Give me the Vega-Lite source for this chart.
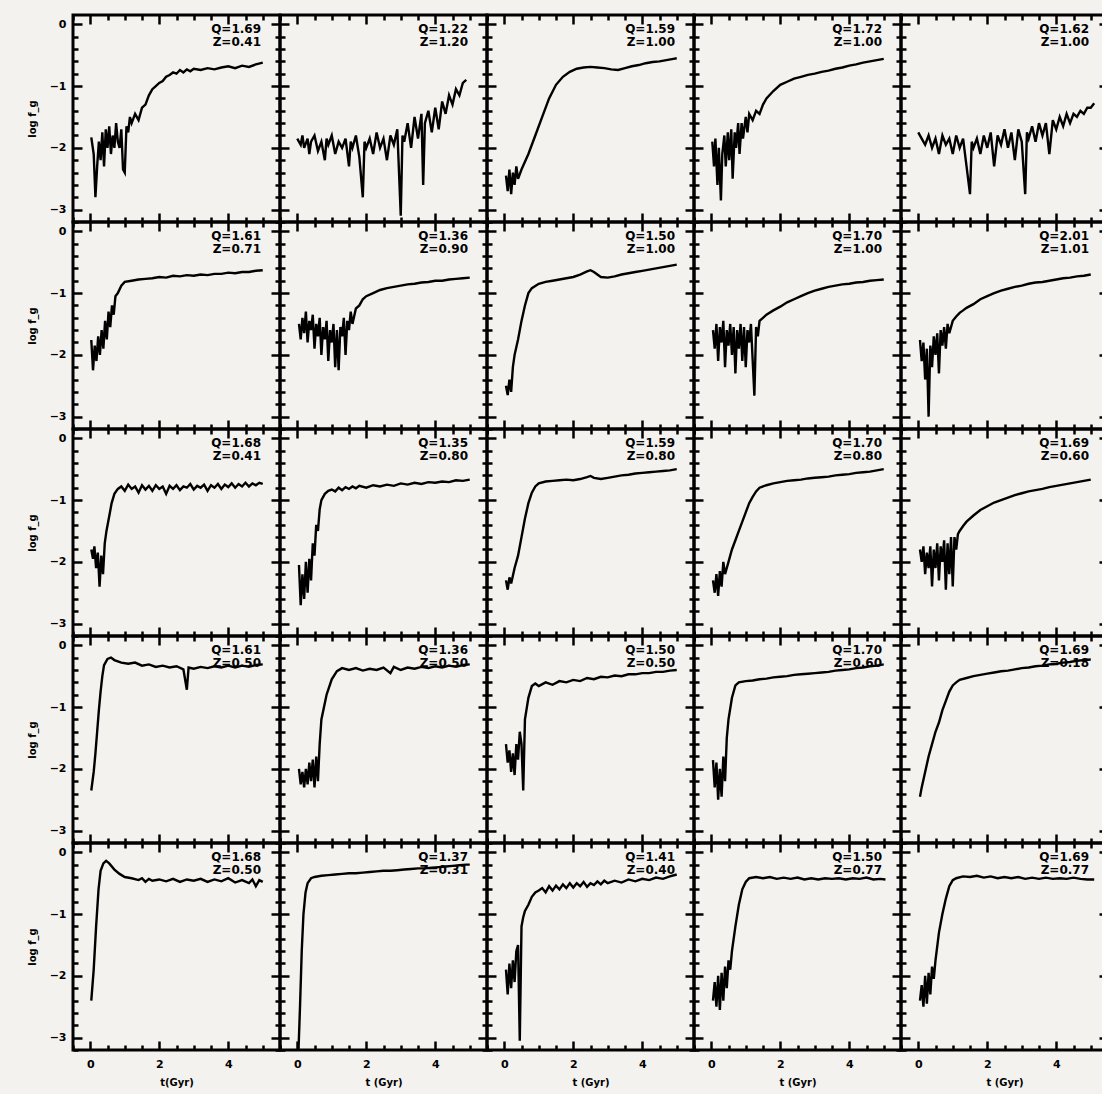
{
"$schema":"https://vega.github.io/schema/vega-lite/v6.json",
"background":"#f4f2ee",
"padding":{"left":25,"top":12,"right":0,"bottom":5},
"datasets":{
"lab":[
{"p":1,"s":"Q=1.69\nZ=0.41"},{"p":2,"s":"Q=1.22\nZ=1.20"},{"p":3,"s":"Q=1.59\nZ=1.00"},{"p":4,"s":"Q=1.72\nZ=1.00"},{"p":5,"s":"Q=1.62\nZ=1.00"},
{"p":6,"s":"Q=1.61\nZ=0.71"},{"p":7,"s":"Q=1.36\nZ=0.90"},{"p":8,"s":"Q=1.50\nZ=1.00"},{"p":9,"s":"Q=1.70\nZ=1.00"},{"p":10,"s":"Q=2.01\nZ=1.01"},
{"p":11,"s":"Q=1.68\nZ=0.41"},{"p":12,"s":"Q=1.35\nZ=0.80"},{"p":13,"s":"Q=1.59\nZ=0.80"},{"p":14,"s":"Q=1.70\nZ=0.80"},{"p":15,"s":"Q=1.69\nZ=0.60"},
{"p":16,"s":"Q=1.61\nZ=0.50"},{"p":17,"s":"Q=1.36\nZ=0.50"},{"p":18,"s":"Q=1.50\nZ=0.50"},{"p":19,"s":"Q=1.70\nZ=0.60"},{"p":20,"s":"Q=1.69\nZ=0.18"},
{"p":21,"s":"Q=1.68\nZ=0.50"},{"p":22,"s":"Q=1.37\nZ=0.31"},{"p":23,"s":"Q=1.41\nZ=0.40"},{"p":24,"s":"Q=1.50\nZ=0.77"},{"p":25,"s":"Q=1.69\nZ=0.77"}
],
"d":[
{"p":1,"t":0.03,"f":-1.83},{"p":1,"t":0.1,"f":-2.1},{"p":1,"t":0.15,"f":-2.8},{"p":1,"t":0.2,"f":-2.3},{"p":1,"t":0.25,"f":-1.9},{"p":1,"t":0.3,"f":-2.2},{"p":1,"t":0.35,"f":-1.75},{"p":1,"t":0.4,"f":-2.3},{"p":1,"t":0.45,"f":-1.7},{"p":1,"t":0.5,"f":-2.0},{"p":1,"t":0.55,"f":-1.65},{"p":1,"t":0.6,"f":-2.1},{"p":1,"t":0.65,"f":-1.8},{"p":1,"t":0.7,"f":-2.0},{"p":1,"t":0.75,"f":-1.6},{"p":1,"t":0.8,"f":-1.9},{"p":1,"t":0.85,"f":-2.0},{"p":1,"t":0.9,"f":-1.7},{"p":1,"t":0.95,"f":-2.35},{"p":1,"t":1.0,"f":-2.4},{"p":1,"t":1.05,"f":-1.65},{"p":1,"t":1.1,"f":-1.75},{"p":1,"t":1.15,"f":-1.5},{"p":1,"t":1.2,"f":-1.6},{"p":1,"t":1.3,"f":-1.45},{"p":1,"t":1.4,"f":-1.55},{"p":1,"t":1.5,"f":-1.35},{"p":1,"t":1.6,"f":-1.3},{"p":1,"t":1.7,"f":-1.15},{"p":1,"t":1.8,"f":-1.05},{"p":1,"t":1.9,"f":-1.0},{"p":1,"t":2.0,"f":-0.95},{"p":1,"t":2.1,"f":-0.92},{"p":1,"t":2.2,"f":-0.85},{"p":1,"t":2.3,"f":-0.82},{"p":1,"t":2.4,"f":-0.78},{"p":1,"t":2.5,"f":-0.8},{"p":1,"t":2.6,"f":-0.74},{"p":1,"t":2.7,"f":-0.78},{"p":1,"t":2.8,"f":-0.73},{"p":1,"t":2.9,"f":-0.76},{"p":1,"t":3.0,"f":-0.72},{"p":1,"t":3.2,"f":-0.74},{"p":1,"t":3.4,"f":-0.71},{"p":1,"t":3.6,"f":-0.73},{"p":1,"t":3.8,"f":-0.7},{"p":1,"t":4.0,"f":-0.68},{"p":1,"t":4.2,"f":-0.71},{"p":1,"t":4.4,"f":-0.67},{"p":1,"t":4.6,"f":-0.69},{"p":1,"t":4.8,"f":-0.65},{"p":1,"t":5.0,"f":-0.62},
{"p":2,"t":0.0,"f":-1.85},{"p":2,"t":0.1,"f":-1.95},{"p":2,"t":0.15,"f":-1.8},{"p":2,"t":0.2,"f":-2.0},{"p":2,"t":0.3,"f":-1.85},{"p":2,"t":0.35,"f":-2.1},{"p":2,"t":0.4,"f":-1.9},{"p":2,"t":0.5,"f":-1.8},{"p":2,"t":0.6,"f":-2.05},{"p":2,"t":0.7,"f":-1.9},{"p":2,"t":0.8,"f":-2.2},{"p":2,"t":0.85,"f":-1.85},{"p":2,"t":0.9,"f":-1.95},{"p":2,"t":1.0,"f":-1.8},{"p":2,"t":1.1,"f":-2.1},{"p":2,"t":1.2,"f":-1.9},{"p":2,"t":1.3,"f":-2.0},{"p":2,"t":1.4,"f":-1.85},{"p":2,"t":1.5,"f":-2.3},{"p":2,"t":1.55,"f":-1.9},{"p":2,"t":1.6,"f":-2.0},{"p":2,"t":1.7,"f":-1.8},{"p":2,"t":1.8,"f":-2.15},{"p":2,"t":1.9,"f":-2.8},{"p":2,"t":1.95,"f":-1.9},{"p":2,"t":2.0,"f":-2.0},{"p":2,"t":2.1,"f":-1.85},{"p":2,"t":2.2,"f":-2.1},{"p":2,"t":2.3,"f":-1.75},{"p":2,"t":2.4,"f":-2.0},{"p":2,"t":2.5,"f":-1.85},{"p":2,"t":2.6,"f":-2.2},{"p":2,"t":2.7,"f":-1.8},{"p":2,"t":2.8,"f":-1.95},{"p":2,"t":2.9,"f":-1.7},{"p":2,"t":3.0,"f":-3.1},{"p":2,"t":3.05,"f":-1.8},{"p":2,"t":3.1,"f":-1.9},{"p":2,"t":3.2,"f":-1.6},{"p":2,"t":3.3,"f":-2.0},{"p":2,"t":3.4,"f":-1.5},{"p":2,"t":3.5,"f":-1.85},{"p":2,"t":3.6,"f":-1.45},{"p":2,"t":3.65,"f":-2.6},{"p":2,"t":3.7,"f":-1.6},{"p":2,"t":3.8,"f":-1.4},{"p":2,"t":3.9,"f":-1.75},{"p":2,"t":4.0,"f":-1.35},{"p":2,"t":4.1,"f":-1.7},{"p":2,"t":4.2,"f":-1.25},{"p":2,"t":4.3,"f":-1.45},{"p":2,"t":4.4,"f":-1.15},{"p":2,"t":4.5,"f":-1.3},{"p":2,"t":4.6,"f":-1.05},{"p":2,"t":4.7,"f":-1.15},{"p":2,"t":4.8,"f":-0.95},{"p":2,"t":4.9,"f":-0.9},
{"p":3,"t":0.05,"f":-2.45},{"p":3,"t":0.1,"f":-2.7},{"p":3,"t":0.15,"f":-2.35},{"p":3,"t":0.2,"f":-2.75},{"p":3,"t":0.25,"f":-2.4},{"p":3,"t":0.3,"f":-2.6},{"p":3,"t":0.35,"f":-2.3},{"p":3,"t":0.4,"f":-2.5},{"p":3,"t":0.5,"f":-2.35},{"p":3,"t":0.7,"f":-2.1},{"p":3,"t":0.9,"f":-1.8},{"p":3,"t":1.1,"f":-1.5},{"p":3,"t":1.3,"f":-1.2},{"p":3,"t":1.5,"f":-0.98},{"p":3,"t":1.7,"f":-0.85},{"p":3,"t":1.9,"f":-0.77},{"p":3,"t":2.1,"f":-0.72},{"p":3,"t":2.3,"f":-0.7},{"p":3,"t":2.5,"f":-0.69},{"p":3,"t":2.7,"f":-0.7},{"p":3,"t":2.9,"f":-0.71},{"p":3,"t":3.1,"f":-0.73},{"p":3,"t":3.3,"f":-0.74},{"p":3,"t":3.5,"f":-0.71},{"p":3,"t":3.7,"f":-0.68},{"p":3,"t":3.9,"f":-0.66},{"p":3,"t":4.1,"f":-0.63},{"p":3,"t":4.3,"f":-0.61},{"p":3,"t":4.5,"f":-0.6},{"p":3,"t":4.7,"f":-0.58},{"p":3,"t":4.9,"f":-0.56},{"p":3,"t":5.0,"f":-0.55},
{"p":4,"t":0.03,"f":-1.9},{"p":4,"t":0.08,"f":-2.3},{"p":4,"t":0.12,"f":-1.85},{"p":4,"t":0.18,"f":-2.6},{"p":4,"t":0.22,"f":-2.0},{"p":4,"t":0.28,"f":-2.85},{"p":4,"t":0.32,"f":-2.1},{"p":4,"t":0.38,"f":-1.8},{"p":4,"t":0.42,"f":-2.3},{"p":4,"t":0.48,"f":-1.75},{"p":4,"t":0.52,"f":-2.2},{"p":4,"t":0.58,"f":-1.7},{"p":4,"t":0.62,"f":-2.5},{"p":4,"t":0.68,"f":-1.75},{"p":4,"t":0.72,"f":-2.0},{"p":4,"t":0.78,"f":-1.6},{"p":4,"t":0.82,"f":-2.1},{"p":4,"t":0.88,"f":-1.6},{"p":4,"t":0.92,"f":-1.85},{"p":4,"t":1.0,"f":-1.5},{"p":4,"t":1.05,"f":-1.75},{"p":4,"t":1.1,"f":-1.45},{"p":4,"t":1.2,"f":-1.55},{"p":4,"t":1.3,"f":-1.4},{"p":4,"t":1.4,"f":-1.45},{"p":4,"t":1.5,"f":-1.3},{"p":4,"t":1.6,"f":-1.2},{"p":4,"t":1.8,"f":-1.08},{"p":4,"t":2.0,"f":-0.98},{"p":4,"t":2.2,"f":-0.93},{"p":4,"t":2.4,"f":-0.88},{"p":4,"t":2.6,"f":-0.85},{"p":4,"t":2.8,"f":-0.82},{"p":4,"t":3.0,"f":-0.8},{"p":4,"t":3.2,"f":-0.77},{"p":4,"t":3.4,"f":-0.75},{"p":4,"t":3.6,"f":-0.72},{"p":4,"t":3.8,"f":-0.7},{"p":4,"t":4.0,"f":-0.67},{"p":4,"t":4.2,"f":-0.65},{"p":4,"t":4.4,"f":-0.62},{"p":4,"t":4.6,"f":-0.6},{"p":4,"t":4.8,"f":-0.58},{"p":4,"t":5.0,"f":-0.56},
{"p":5,"t":0.0,"f":-1.75},{"p":5,"t":0.1,"f":-1.85},{"p":5,"t":0.2,"f":-1.95},{"p":5,"t":0.3,"f":-1.8},{"p":5,"t":0.4,"f":-2.0},{"p":5,"t":0.5,"f":-1.85},{"p":5,"t":0.6,"f":-2.1},{"p":5,"t":0.7,"f":-1.8},{"p":5,"t":0.8,"f":-1.95},{"p":5,"t":0.9,"f":-1.85},{"p":5,"t":1.0,"f":-2.1},{"p":5,"t":1.1,"f":-1.8},{"p":5,"t":1.2,"f":-2.0},{"p":5,"t":1.3,"f":-1.85},{"p":5,"t":1.4,"f":-2.3},{"p":5,"t":1.5,"f":-2.75},{"p":5,"t":1.55,"f":-1.9},{"p":5,"t":1.6,"f":-2.0},{"p":5,"t":1.7,"f":-1.85},{"p":5,"t":1.8,"f":-2.1},{"p":5,"t":1.9,"f":-1.8},{"p":5,"t":2.0,"f":-2.0},{"p":5,"t":2.1,"f":-1.75},{"p":5,"t":2.2,"f":-2.3},{"p":5,"t":2.3,"f":-1.8},{"p":5,"t":2.4,"f":-1.95},{"p":5,"t":2.5,"f":-1.7},{"p":5,"t":2.6,"f":-2.0},{"p":5,"t":2.7,"f":-1.75},{"p":5,"t":2.8,"f":-2.2},{"p":5,"t":2.9,"f":-1.7},{"p":5,"t":3.0,"f":-1.9},{"p":5,"t":3.1,"f":-2.75},{"p":5,"t":3.15,"f":-1.75},{"p":5,"t":3.2,"f":-1.85},{"p":5,"t":3.3,"f":-1.65},{"p":5,"t":3.4,"f":-1.9},{"p":5,"t":3.5,"f":-1.6},{"p":5,"t":3.6,"f":-1.8},{"p":5,"t":3.7,"f":-1.6},{"p":5,"t":3.8,"f":-2.1},{"p":5,"t":3.9,"f":-1.55},{"p":5,"t":4.0,"f":-1.7},{"p":5,"t":4.1,"f":-1.5},{"p":5,"t":4.2,"f":-1.65},{"p":5,"t":4.3,"f":-1.45},{"p":5,"t":4.4,"f":-1.6},{"p":5,"t":4.5,"f":-1.45},{"p":5,"t":4.6,"f":-1.5},{"p":5,"t":4.7,"f":-1.4},{"p":5,"t":4.8,"f":-1.45},{"p":5,"t":4.9,"f":-1.35},{"p":5,"t":5.0,"f":-1.35},{"p":5,"t":5.1,"f":-1.28},
{"p":6,"t":0.03,"f":-1.76},{"p":6,"t":0.08,"f":-2.25},{"p":6,"t":0.13,"f":-1.85},{"p":6,"t":0.18,"f":-2.1},{"p":6,"t":0.23,"f":-1.7},{"p":6,"t":0.28,"f":-2.0},{"p":6,"t":0.33,"f":-1.6},{"p":6,"t":0.38,"f":-1.9},{"p":6,"t":0.43,"f":-1.45},{"p":6,"t":0.48,"f":-1.75},{"p":6,"t":0.53,"f":-1.3},{"p":6,"t":0.58,"f":-1.55},{"p":6,"t":0.63,"f":-1.2},{"p":6,"t":0.68,"f":-1.35},{"p":6,"t":0.73,"f":-1.05},{"p":6,"t":0.8,"f":-1.0},{"p":6,"t":0.9,"f":-0.88},{"p":6,"t":1.0,"f":-0.82},{"p":6,"t":1.2,"f":-0.8},{"p":6,"t":1.4,"f":-0.78},{"p":6,"t":1.6,"f":-0.77},{"p":6,"t":1.8,"f":-0.76},{"p":6,"t":2.0,"f":-0.74},{"p":6,"t":2.2,"f":-0.75},{"p":6,"t":2.4,"f":-0.72},{"p":6,"t":2.6,"f":-0.73},{"p":6,"t":2.8,"f":-0.71},{"p":6,"t":3.0,"f":-0.72},{"p":6,"t":3.2,"f":-0.7},{"p":6,"t":3.4,"f":-0.71},{"p":6,"t":3.6,"f":-0.69},{"p":6,"t":3.8,"f":-0.69},{"p":6,"t":4.0,"f":-0.67},{"p":6,"t":4.2,"f":-0.68},{"p":6,"t":4.4,"f":-0.66},{"p":6,"t":4.6,"f":-0.66},{"p":6,"t":4.8,"f":-0.64},{"p":6,"t":5.0,"f":-0.63},
{"p":7,"t":0.05,"f":-1.5},{"p":7,"t":0.1,"f":-1.75},{"p":7,"t":0.15,"f":-1.4},{"p":7,"t":0.2,"f":-1.65},{"p":7,"t":0.25,"f":-1.3},{"p":7,"t":0.3,"f":-1.8},{"p":7,"t":0.35,"f":-1.45},{"p":7,"t":0.4,"f":-1.6},{"p":7,"t":0.45,"f":-1.35},{"p":7,"t":0.5,"f":-1.9},{"p":7,"t":0.55,"f":-1.5},{"p":7,"t":0.6,"f":-1.7},{"p":7,"t":0.65,"f":-1.4},{"p":7,"t":0.7,"f":-2.0},{"p":7,"t":0.75,"f":-1.55},{"p":7,"t":0.8,"f":-1.75},{"p":7,"t":0.85,"f":-1.45},{"p":7,"t":0.9,"f":-2.1},{"p":7,"t":0.95,"f":-1.6},{"p":7,"t":1.0,"f":-1.8},{"p":7,"t":1.05,"f":-1.5},{"p":7,"t":1.1,"f":-2.2},{"p":7,"t":1.15,"f":-1.6},{"p":7,"t":1.2,"f":-2.25},{"p":7,"t":1.25,"f":-1.55},{"p":7,"t":1.3,"f":-1.7},{"p":7,"t":1.35,"f":-1.4},{"p":7,"t":1.4,"f":-2.0},{"p":7,"t":1.45,"f":-1.45},{"p":7,"t":1.5,"f":-1.6},{"p":7,"t":1.55,"f":-1.3},{"p":7,"t":1.6,"f":-1.5},{"p":7,"t":1.7,"f":-1.25},{"p":7,"t":1.8,"f":-1.2},{"p":7,"t":1.9,"f":-1.1},{"p":7,"t":2.0,"f":-1.05},{"p":7,"t":2.2,"f":-1.0},{"p":7,"t":2.4,"f":-0.95},{"p":7,"t":2.6,"f":-0.92},{"p":7,"t":2.8,"f":-0.9},{"p":7,"t":3.0,"f":-0.88},{"p":7,"t":3.2,"f":-0.86},{"p":7,"t":3.4,"f":-0.85},{"p":7,"t":3.6,"f":-0.83},{"p":7,"t":3.8,"f":-0.82},{"p":7,"t":4.0,"f":-0.8},{"p":7,"t":4.2,"f":-0.8},{"p":7,"t":4.4,"f":-0.78},{"p":7,"t":4.6,"f":-0.77},{"p":7,"t":4.8,"f":-0.76},{"p":7,"t":5.0,"f":-0.75},
{"p":8,"t":0.05,"f":-2.5},{"p":8,"t":0.1,"f":-2.65},{"p":8,"t":0.15,"f":-2.4},{"p":8,"t":0.2,"f":-2.6},{"p":8,"t":0.25,"f":-2.2},{"p":8,"t":0.3,"f":-2.0},{"p":8,"t":0.4,"f":-1.75},{"p":8,"t":0.5,"f":-1.45},{"p":8,"t":0.6,"f":-1.2},{"p":8,"t":0.7,"f":-1.0},{"p":8,"t":0.8,"f":-0.92},{"p":8,"t":1.0,"f":-0.85},{"p":8,"t":1.2,"f":-0.82},{"p":8,"t":1.4,"f":-0.8},{"p":8,"t":1.6,"f":-0.78},{"p":8,"t":1.8,"f":-0.76},{"p":8,"t":2.0,"f":-0.74},{"p":8,"t":2.2,"f":-0.7},{"p":8,"t":2.4,"f":-0.65},{"p":8,"t":2.5,"f":-0.63},{"p":8,"t":2.6,"f":-0.66},{"p":8,"t":2.8,"f":-0.74},{"p":8,"t":3.0,"f":-0.75},{"p":8,"t":3.2,"f":-0.73},{"p":8,"t":3.4,"f":-0.7},{"p":8,"t":3.6,"f":-0.68},{"p":8,"t":3.8,"f":-0.66},{"p":8,"t":4.0,"f":-0.64},{"p":8,"t":4.2,"f":-0.62},{"p":8,"t":4.4,"f":-0.6},{"p":8,"t":4.6,"f":-0.58},{"p":8,"t":4.8,"f":-0.56},{"p":8,"t":5.0,"f":-0.54},
{"p":9,"t":0.05,"f":-1.6},{"p":9,"t":0.1,"f":-1.9},{"p":9,"t":0.15,"f":-1.5},{"p":9,"t":0.2,"f":-2.1},{"p":9,"t":0.25,"f":-1.55},{"p":9,"t":0.3,"f":-1.8},{"p":9,"t":0.35,"f":-1.45},{"p":9,"t":0.4,"f":-2.2},{"p":9,"t":0.45,"f":-1.6},{"p":9,"t":0.5,"f":-1.85},{"p":9,"t":0.55,"f":-1.5},{"p":9,"t":0.6,"f":-2.0},{"p":9,"t":0.65,"f":-1.55},{"p":9,"t":0.7,"f":-2.3},{"p":9,"t":0.75,"f":-1.6},{"p":9,"t":0.8,"f":-1.9},{"p":9,"t":0.85,"f":-1.5},{"p":9,"t":0.9,"f":-2.1},{"p":9,"t":0.95,"f":-1.55},{"p":9,"t":1.0,"f":-2.2},{"p":9,"t":1.05,"f":-1.6},{"p":9,"t":1.1,"f":-1.8},{"p":9,"t":1.15,"f":-1.5},{"p":9,"t":1.25,"f":-2.66},{"p":9,"t":1.3,"f":-1.55},{"p":9,"t":1.35,"f":-1.7},{"p":9,"t":1.4,"f":-1.45},{"p":9,"t":1.5,"f":-1.4},{"p":9,"t":1.6,"f":-1.35},{"p":9,"t":1.8,"f":-1.28},{"p":9,"t":2.0,"f":-1.22},{"p":9,"t":2.2,"f":-1.15},{"p":9,"t":2.4,"f":-1.1},{"p":9,"t":2.6,"f":-1.05},{"p":9,"t":2.8,"f":-1.0},{"p":9,"t":3.0,"f":-0.96},{"p":9,"t":3.2,"f":-0.93},{"p":9,"t":3.4,"f":-0.9},{"p":9,"t":3.6,"f":-0.88},{"p":9,"t":3.8,"f":-0.86},{"p":9,"t":4.0,"f":-0.85},{"p":9,"t":4.2,"f":-0.83},{"p":9,"t":4.4,"f":-0.82},{"p":9,"t":4.6,"f":-0.8},{"p":9,"t":4.8,"f":-0.79},{"p":9,"t":5.0,"f":-0.78},
{"p":10,"t":0.05,"f":-1.76},{"p":10,"t":0.1,"f":-2.1},{"p":10,"t":0.15,"f":-1.8},{"p":10,"t":0.2,"f":-2.4},{"p":10,"t":0.25,"f":-1.9},{"p":10,"t":0.3,"f":-3.0},{"p":10,"t":0.35,"f":-1.85},{"p":10,"t":0.4,"f":-2.2},{"p":10,"t":0.45,"f":-1.7},{"p":10,"t":0.5,"f":-2.0},{"p":10,"t":0.55,"f":-1.65},{"p":10,"t":0.6,"f":-2.3},{"p":10,"t":0.65,"f":-1.6},{"p":10,"t":0.7,"f":-1.85},{"p":10,"t":0.75,"f":-1.55},{"p":10,"t":0.8,"f":-1.9},{"p":10,"t":0.85,"f":-1.5},{"p":10,"t":0.9,"f":-1.65},{"p":10,"t":1.0,"f":-1.45},{"p":10,"t":1.1,"f":-1.38},{"p":10,"t":1.2,"f":-1.32},{"p":10,"t":1.3,"f":-1.28},{"p":10,"t":1.4,"f":-1.24},{"p":10,"t":1.6,"f":-1.18},{"p":10,"t":1.8,"f":-1.1},{"p":10,"t":2.0,"f":-1.05},{"p":10,"t":2.2,"f":-1.0},{"p":10,"t":2.4,"f":-0.96},{"p":10,"t":2.6,"f":-0.93},{"p":10,"t":2.8,"f":-0.9},{"p":10,"t":3.0,"f":-0.88},{"p":10,"t":3.2,"f":-0.85},{"p":10,"t":3.4,"f":-0.83},{"p":10,"t":3.6,"f":-0.82},{"p":10,"t":3.8,"f":-0.8},{"p":10,"t":4.0,"f":-0.78},{"p":10,"t":4.2,"f":-0.76},{"p":10,"t":4.4,"f":-0.75},{"p":10,"t":4.6,"f":-0.73},{"p":10,"t":4.8,"f":-0.72},{"p":10,"t":5.0,"f":-0.7},
{"p":11,"t":0.03,"f":-1.8},{"p":11,"t":0.08,"f":-1.95},{"p":11,"t":0.12,"f":-1.75},{"p":11,"t":0.17,"f":-2.1},{"p":11,"t":0.22,"f":-1.85},{"p":11,"t":0.27,"f":-2.4},{"p":11,"t":0.32,"f":-1.9},{"p":11,"t":0.37,"f":-2.2},{"p":11,"t":0.42,"f":-1.7},{"p":11,"t":0.47,"f":-1.5},{"p":11,"t":0.52,"f":-1.35},{"p":11,"t":0.57,"f":-1.2},{"p":11,"t":0.62,"f":-1.05},{"p":11,"t":0.7,"f":-0.9},{"p":11,"t":0.8,"f":-0.82},{"p":11,"t":0.9,"f":-0.78},{"p":11,"t":1.0,"f":-0.85},{"p":11,"t":1.1,"f":-0.75},{"p":11,"t":1.2,"f":-0.82},{"p":11,"t":1.3,"f":-0.78},{"p":11,"t":1.4,"f":-0.88},{"p":11,"t":1.5,"f":-0.76},{"p":11,"t":1.6,"f":-0.83},{"p":11,"t":1.7,"f":-0.77},{"p":11,"t":1.8,"f":-0.85},{"p":11,"t":1.9,"f":-0.76},{"p":11,"t":2.0,"f":-0.82},{"p":11,"t":2.1,"f":-0.78},{"p":11,"t":2.2,"f":-0.9},{"p":11,"t":2.3,"f":-0.77},{"p":11,"t":2.4,"f":-0.82},{"p":11,"t":2.5,"f":-0.76},{"p":11,"t":2.6,"f":-0.84},{"p":11,"t":2.7,"f":-0.78},{"p":11,"t":2.8,"f":-0.8},{"p":11,"t":2.9,"f":-0.74},{"p":11,"t":3.0,"f":-0.83},{"p":11,"t":3.1,"f":-0.77},{"p":11,"t":3.2,"f":-0.8},{"p":11,"t":3.3,"f":-0.75},{"p":11,"t":3.4,"f":-0.85},{"p":11,"t":3.5,"f":-0.76},{"p":11,"t":3.6,"f":-0.8},{"p":11,"t":3.7,"f":-0.74},{"p":11,"t":3.8,"f":-0.82},{"p":11,"t":3.9,"f":-0.75},{"p":11,"t":4.0,"f":-0.79},{"p":11,"t":4.1,"f":-0.73},{"p":11,"t":4.2,"f":-0.8},{"p":11,"t":4.3,"f":-0.74},{"p":11,"t":4.4,"f":-0.78},{"p":11,"t":4.5,"f":-0.72},{"p":11,"t":4.6,"f":-0.78},{"p":11,"t":4.7,"f":-0.73},{"p":11,"t":4.8,"f":-0.76},{"p":11,"t":4.9,"f":-0.72},{"p":11,"t":5.0,"f":-0.74},
{"p":12,"t":0.05,"f":-2.05},{"p":12,"t":0.1,"f":-2.7},{"p":12,"t":0.15,"f":-2.2},{"p":12,"t":0.2,"f":-2.6},{"p":12,"t":0.25,"f":-2.0},{"p":12,"t":0.3,"f":-2.5},{"p":12,"t":0.35,"f":-1.95},{"p":12,"t":0.4,"f":-2.3},{"p":12,"t":0.45,"f":-1.7},{"p":12,"t":0.5,"f":-1.9},{"p":12,"t":0.55,"f":-1.4},{"p":12,"t":0.6,"f":-1.5},{"p":12,"t":0.65,"f":-1.15},{"p":12,"t":0.7,"f":-1.0},{"p":12,"t":0.8,"f":-0.9},{"p":12,"t":0.9,"f":-0.85},{"p":12,"t":1.0,"f":-0.83},{"p":12,"t":1.1,"f":-0.86},{"p":12,"t":1.2,"f":-0.8},{"p":12,"t":1.3,"f":-0.84},{"p":12,"t":1.4,"f":-0.79},{"p":12,"t":1.5,"f":-0.82},{"p":12,"t":1.6,"f":-0.78},{"p":12,"t":1.7,"f":-0.81},{"p":12,"t":1.8,"f":-0.77},{"p":12,"t":2.0,"f":-0.8},{"p":12,"t":2.2,"f":-0.76},{"p":12,"t":2.4,"f":-0.78},{"p":12,"t":2.6,"f":-0.75},{"p":12,"t":2.8,"f":-0.77},{"p":12,"t":3.0,"f":-0.73},{"p":12,"t":3.2,"f":-0.75},{"p":12,"t":3.4,"f":-0.72},{"p":12,"t":3.6,"f":-0.74},{"p":12,"t":3.8,"f":-0.71},{"p":12,"t":4.0,"f":-0.72},{"p":12,"t":4.2,"f":-0.7},{"p":12,"t":4.4,"f":-0.71},{"p":12,"t":4.6,"f":-0.68},{"p":12,"t":4.8,"f":-0.69},{"p":12,"t":5.0,"f":-0.67},
{"p":13,"t":0.05,"f":-2.3},{"p":13,"t":0.1,"f":-2.45},{"p":13,"t":0.15,"f":-2.25},{"p":13,"t":0.2,"f":-2.35},{"p":13,"t":0.3,"f":-2.1},{"p":13,"t":0.4,"f":-1.9},{"p":13,"t":0.5,"f":-1.6},{"p":13,"t":0.6,"f":-1.3},{"p":13,"t":0.7,"f":-1.05},{"p":13,"t":0.8,"f":-0.88},{"p":13,"t":0.9,"f":-0.78},{"p":13,"t":1.0,"f":-0.73},{"p":13,"t":1.2,"f":-0.7},{"p":13,"t":1.4,"f":-0.69},{"p":13,"t":1.6,"f":-0.68},{"p":13,"t":1.8,"f":-0.67},{"p":13,"t":2.0,"f":-0.68},{"p":13,"t":2.2,"f":-0.66},{"p":13,"t":2.4,"f":-0.63},{"p":13,"t":2.5,"f":-0.61},{"p":13,"t":2.6,"f":-0.64},{"p":13,"t":2.8,"f":-0.66},{"p":13,"t":3.0,"f":-0.64},{"p":13,"t":3.2,"f":-0.62},{"p":13,"t":3.4,"f":-0.6},{"p":13,"t":3.6,"f":-0.59},{"p":13,"t":3.8,"f":-0.57},{"p":13,"t":4.0,"f":-0.56},{"p":13,"t":4.2,"f":-0.55},{"p":13,"t":4.4,"f":-0.54},{"p":13,"t":4.6,"f":-0.53},{"p":13,"t":4.8,"f":-0.52},{"p":13,"t":5.0,"f":-0.5},
{"p":14,"t":0.05,"f":-2.3},{"p":14,"t":0.1,"f":-2.5},{"p":14,"t":0.15,"f":-2.2},{"p":14,"t":0.2,"f":-2.55},{"p":14,"t":0.25,"f":-2.15},{"p":14,"t":0.3,"f":-2.4},{"p":14,"t":0.35,"f":-2.0},{"p":14,"t":0.4,"f":-2.2},{"p":14,"t":0.5,"f":-2.0},{"p":14,"t":0.6,"f":-1.8},{"p":14,"t":0.7,"f":-1.65},{"p":14,"t":0.8,"f":-1.5},{"p":14,"t":0.9,"f":-1.35},{"p":14,"t":1.0,"f":-1.2},{"p":14,"t":1.1,"f":-1.05},{"p":14,"t":1.2,"f":-0.95},{"p":14,"t":1.3,"f":-0.86},{"p":14,"t":1.4,"f":-0.8},{"p":14,"t":1.6,"f":-0.76},{"p":14,"t":1.8,"f":-0.73},{"p":14,"t":2.0,"f":-0.71},{"p":14,"t":2.2,"f":-0.69},{"p":14,"t":2.4,"f":-0.68},{"p":14,"t":2.6,"f":-0.67},{"p":14,"t":2.8,"f":-0.65},{"p":14,"t":3.0,"f":-0.64},{"p":14,"t":3.2,"f":-0.63},{"p":14,"t":3.4,"f":-0.62},{"p":14,"t":3.6,"f":-0.6},{"p":14,"t":3.8,"f":-0.59},{"p":14,"t":4.0,"f":-0.58},{"p":14,"t":4.2,"f":-0.56},{"p":14,"t":4.4,"f":-0.55},{"p":14,"t":4.6,"f":-0.54},{"p":14,"t":4.8,"f":-0.52},{"p":14,"t":5.0,"f":-0.5},
{"p":15,"t":0.05,"f":-1.8},{"p":15,"t":0.1,"f":-2.0},{"p":15,"t":0.15,"f":-1.75},{"p":15,"t":0.2,"f":-2.2},{"p":15,"t":0.25,"f":-1.85},{"p":15,"t":0.3,"f":-2.1},{"p":15,"t":0.35,"f":-1.75},{"p":15,"t":0.4,"f":-2.4},{"p":15,"t":0.45,"f":-1.8},{"p":15,"t":0.5,"f":-2.1},{"p":15,"t":0.55,"f":-1.7},{"p":15,"t":0.6,"f":-2.3},{"p":15,"t":0.65,"f":-1.75},{"p":15,"t":0.7,"f":-2.0},{"p":15,"t":0.75,"f":-1.65},{"p":15,"t":0.8,"f":-2.45},{"p":15,"t":0.85,"f":-1.7},{"p":15,"t":0.9,"f":-2.2},{"p":15,"t":0.95,"f":-1.6},{"p":15,"t":1.0,"f":-2.4},{"p":15,"t":1.05,"f":-1.6},{"p":15,"t":1.1,"f":-1.8},{"p":15,"t":1.15,"f":-1.55},{"p":15,"t":1.2,"f":-1.5},{"p":15,"t":1.3,"f":-1.42},{"p":15,"t":1.4,"f":-1.35},{"p":15,"t":1.6,"f":-1.25},{"p":15,"t":1.8,"f":-1.16},{"p":15,"t":2.0,"f":-1.1},{"p":15,"t":2.2,"f":-1.04},{"p":15,"t":2.4,"f":-1.0},{"p":15,"t":2.6,"f":-0.96},{"p":15,"t":2.8,"f":-0.92},{"p":15,"t":3.0,"f":-0.89},{"p":15,"t":3.2,"f":-0.86},{"p":15,"t":3.4,"f":-0.84},{"p":15,"t":3.6,"f":-0.82},{"p":15,"t":3.8,"f":-0.79},{"p":15,"t":4.0,"f":-0.77},{"p":15,"t":4.2,"f":-0.75},{"p":15,"t":4.4,"f":-0.73},{"p":15,"t":4.6,"f":-0.71},{"p":15,"t":4.8,"f":-0.69},{"p":15,"t":5.0,"f":-0.67},
{"p":16,"t":0.03,"f":-2.35},{"p":16,"t":0.1,"f":-2.05},{"p":16,"t":0.15,"f":-1.75},{"p":16,"t":0.2,"f":-1.4},{"p":16,"t":0.25,"f":-1.05},{"p":16,"t":0.3,"f":-0.75},{"p":16,"t":0.35,"f":-0.5},{"p":16,"t":0.4,"f":-0.32},{"p":16,"t":0.5,"f":-0.22},{"p":16,"t":0.6,"f":-0.2},{"p":16,"t":0.7,"f":-0.24},{"p":16,"t":0.9,"f":-0.28},{"p":16,"t":1.1,"f":-0.3},{"p":16,"t":1.3,"f":-0.28},{"p":16,"t":1.5,"f":-0.33},{"p":16,"t":1.7,"f":-0.31},{"p":16,"t":1.9,"f":-0.35},{"p":16,"t":2.1,"f":-0.33},{"p":16,"t":2.3,"f":-0.36},{"p":16,"t":2.5,"f":-0.34},{"p":16,"t":2.7,"f":-0.39},{"p":16,"t":2.8,"f":-0.72},{"p":16,"t":2.85,"f":-0.36},{"p":16,"t":3.0,"f":-0.38},{"p":16,"t":3.2,"f":-0.35},{"p":16,"t":3.4,"f":-0.37},{"p":16,"t":3.6,"f":-0.34},{"p":16,"t":3.8,"f":-0.36},{"p":16,"t":4.0,"f":-0.33},{"p":16,"t":4.2,"f":-0.36},{"p":16,"t":4.4,"f":-0.33},{"p":16,"t":4.6,"f":-0.35},{"p":16,"t":4.8,"f":-0.32},{"p":16,"t":5.0,"f":-0.31},
{"p":17,"t":0.05,"f":-2.0},{"p":17,"t":0.1,"f":-2.25},{"p":17,"t":0.15,"f":-2.05},{"p":17,"t":0.2,"f":-2.3},{"p":17,"t":0.25,"f":-2.0},{"p":17,"t":0.3,"f":-2.25},{"p":17,"t":0.35,"f":-1.9},{"p":17,"t":0.4,"f":-2.2},{"p":17,"t":0.45,"f":-1.85},{"p":17,"t":0.5,"f":-2.3},{"p":17,"t":0.55,"f":-1.8},{"p":17,"t":0.6,"f":-2.2},{"p":17,"t":0.65,"f":-1.6},{"p":17,"t":0.7,"f":-1.2},{"p":17,"t":0.85,"f":-0.8},{"p":17,"t":1.0,"f":-0.55},{"p":17,"t":1.15,"f":-0.42},{"p":17,"t":1.3,"f":-0.37},{"p":17,"t":1.5,"f":-0.4},{"p":17,"t":1.7,"f":-0.37},{"p":17,"t":1.9,"f":-0.41},{"p":17,"t":2.1,"f":-0.38},{"p":17,"t":2.3,"f":-0.4},{"p":17,"t":2.5,"f":-0.36},{"p":17,"t":2.7,"f":-0.45},{"p":17,"t":2.8,"f":-0.35},{"p":17,"t":3.0,"f":-0.4},{"p":17,"t":3.2,"f":-0.36},{"p":17,"t":3.4,"f":-0.38},{"p":17,"t":3.6,"f":-0.35},{"p":17,"t":3.8,"f":-0.37},{"p":17,"t":4.0,"f":-0.34},{"p":17,"t":4.2,"f":-0.36},{"p":17,"t":4.4,"f":-0.33},{"p":17,"t":4.6,"f":-0.35},{"p":17,"t":4.8,"f":-0.32},{"p":17,"t":5.0,"f":-0.31},
{"p":18,"t":0.05,"f":-1.6},{"p":18,"t":0.1,"f":-1.9},{"p":18,"t":0.15,"f":-1.7},{"p":18,"t":0.2,"f":-2.05},{"p":18,"t":0.25,"f":-1.75},{"p":18,"t":0.3,"f":-2.1},{"p":18,"t":0.35,"f":-1.6},{"p":18,"t":0.4,"f":-1.85},{"p":18,"t":0.45,"f":-1.4},{"p":18,"t":0.5,"f":-1.6},{"p":18,"t":0.55,"f":-2.35},{"p":18,"t":0.6,"f":-1.2},{"p":18,"t":0.7,"f":-0.85},{"p":18,"t":0.8,"f":-0.66},{"p":18,"t":0.9,"f":-0.62},{"p":18,"t":1.0,"f":-0.66},{"p":18,"t":1.2,"f":-0.6},{"p":18,"t":1.4,"f":-0.64},{"p":18,"t":1.6,"f":-0.58},{"p":18,"t":1.8,"f":-0.6},{"p":18,"t":2.0,"f":-0.56},{"p":18,"t":2.2,"f":-0.58},{"p":18,"t":2.4,"f":-0.53},{"p":18,"t":2.6,"f":-0.55},{"p":18,"t":2.8,"f":-0.51},{"p":18,"t":3.0,"f":-0.52},{"p":18,"t":3.2,"f":-0.49},{"p":18,"t":3.4,"f":-0.5},{"p":18,"t":3.6,"f":-0.47},{"p":18,"t":3.8,"f":-0.47},{"p":18,"t":4.0,"f":-0.45},{"p":18,"t":4.2,"f":-0.45},{"p":18,"t":4.4,"f":-0.43},{"p":18,"t":4.6,"f":-0.43},{"p":18,"t":4.8,"f":-0.41},{"p":18,"t":5.0,"f":-0.4},
{"p":19,"t":0.05,"f":-1.86},{"p":19,"t":0.1,"f":-2.3},{"p":19,"t":0.15,"f":-1.9},{"p":19,"t":0.2,"f":-2.5},{"p":19,"t":0.25,"f":-2.0},{"p":19,"t":0.3,"f":-2.45},{"p":19,"t":0.35,"f":-1.8},{"p":19,"t":0.4,"f":-2.2},{"p":19,"t":0.45,"f":-1.5},{"p":19,"t":0.5,"f":-1.2},{"p":19,"t":0.6,"f":-0.85},{"p":19,"t":0.7,"f":-0.65},{"p":19,"t":0.8,"f":-0.6},{"p":19,"t":1.0,"f":-0.58},{"p":19,"t":1.2,"f":-0.57},{"p":19,"t":1.4,"f":-0.55},{"p":19,"t":1.6,"f":-0.54},{"p":19,"t":1.8,"f":-0.52},{"p":19,"t":2.0,"f":-0.51},{"p":19,"t":2.2,"f":-0.5},{"p":19,"t":2.4,"f":-0.48},{"p":19,"t":2.6,"f":-0.47},{"p":19,"t":2.8,"f":-0.46},{"p":19,"t":3.0,"f":-0.45},{"p":19,"t":3.2,"f":-0.44},{"p":19,"t":3.4,"f":-0.43},{"p":19,"t":3.6,"f":-0.41},{"p":19,"t":3.8,"f":-0.4},{"p":19,"t":4.0,"f":-0.39},{"p":19,"t":4.2,"f":-0.37},{"p":19,"t":4.4,"f":-0.36},{"p":19,"t":4.6,"f":-0.34},{"p":19,"t":4.8,"f":-0.33},{"p":19,"t":5.0,"f":-0.31},
{"p":20,"t":0.05,"f":-2.45},{"p":20,"t":0.1,"f":-2.3},{"p":20,"t":0.2,"f":-2.05},{"p":20,"t":0.3,"f":-1.8},{"p":20,"t":0.4,"f":-1.6},{"p":20,"t":0.5,"f":-1.4},{"p":20,"t":0.6,"f":-1.25},{"p":20,"t":0.7,"f":-1.05},{"p":20,"t":0.8,"f":-0.9},{"p":20,"t":0.9,"f":-0.75},{"p":20,"t":1.0,"f":-0.65},{"p":20,"t":1.1,"f":-0.6},{"p":20,"t":1.2,"f":-0.56},{"p":20,"t":1.4,"f":-0.53},{"p":20,"t":1.6,"f":-0.5},{"p":20,"t":1.8,"f":-0.48},{"p":20,"t":2.0,"f":-0.46},{"p":20,"t":2.2,"f":-0.44},{"p":20,"t":2.4,"f":-0.42},{"p":20,"t":2.6,"f":-0.41},{"p":20,"t":2.8,"f":-0.39},{"p":20,"t":3.0,"f":-0.37},{"p":20,"t":3.2,"f":-0.36},{"p":20,"t":3.4,"f":-0.34},{"p":20,"t":3.6,"f":-0.33},{"p":20,"t":3.8,"f":-0.31},{"p":20,"t":4.0,"f":-0.3},{"p":20,"t":4.2,"f":-0.28},{"p":20,"t":4.4,"f":-0.27},{"p":20,"t":4.6,"f":-0.25},{"p":20,"t":4.8,"f":-0.24},{"p":20,"t":5.0,"f":-0.23},
{"p":21,"t":0.03,"f":-2.4},{"p":21,"t":0.1,"f":-1.9},{"p":21,"t":0.17,"f":-1.2},{"p":21,"t":0.24,"f":-0.6},{"p":21,"t":0.3,"f":-0.3},{"p":21,"t":0.38,"f":-0.18},{"p":21,"t":0.46,"f":-0.14},{"p":21,"t":0.55,"f":-0.18},{"p":21,"t":0.7,"f":-0.28},{"p":21,"t":0.85,"f":-0.35},{"p":21,"t":1.0,"f":-0.4},{"p":21,"t":1.2,"f":-0.42},{"p":21,"t":1.4,"f":-0.45},{"p":21,"t":1.5,"f":-0.42},{"p":21,"t":1.6,"f":-0.48},{"p":21,"t":1.7,"f":-0.43},{"p":21,"t":1.8,"f":-0.46},{"p":21,"t":2.0,"f":-0.44},{"p":21,"t":2.2,"f":-0.47},{"p":21,"t":2.4,"f":-0.43},{"p":21,"t":2.6,"f":-0.48},{"p":21,"t":2.8,"f":-0.44},{"p":21,"t":3.0,"f":-0.46},{"p":21,"t":3.2,"f":-0.43},{"p":21,"t":3.4,"f":-0.48},{"p":21,"t":3.6,"f":-0.44},{"p":21,"t":3.8,"f":-0.47},{"p":21,"t":4.0,"f":-0.42},{"p":21,"t":4.2,"f":-0.49},{"p":21,"t":4.4,"f":-0.45},{"p":21,"t":4.6,"f":-0.5},{"p":21,"t":4.7,"f":-0.44},{"p":21,"t":4.8,"f":-0.55},{"p":21,"t":4.9,"f":-0.45},{"p":21,"t":5.0,"f":-0.48},
{"p":22,"t":0.03,"f":-3.3},{"p":22,"t":0.08,"f":-2.5},{"p":22,"t":0.13,"f":-1.6},{"p":22,"t":0.18,"f":-1.0},{"p":22,"t":0.24,"f":-0.65},{"p":22,"t":0.3,"f":-0.5},{"p":22,"t":0.4,"f":-0.42},{"p":22,"t":0.5,"f":-0.4},{"p":22,"t":0.7,"f":-0.38},{"p":22,"t":0.9,"f":-0.37},{"p":22,"t":1.1,"f":-0.36},{"p":22,"t":1.3,"f":-0.35},{"p":22,"t":1.5,"f":-0.34},{"p":22,"t":1.7,"f":-0.34},{"p":22,"t":1.9,"f":-0.33},{"p":22,"t":2.1,"f":-0.32},{"p":22,"t":2.3,"f":-0.31},{"p":22,"t":2.5,"f":-0.3},{"p":22,"t":2.7,"f":-0.3},{"p":22,"t":2.9,"f":-0.29},{"p":22,"t":3.1,"f":-0.28},{"p":22,"t":3.3,"f":-0.27},{"p":22,"t":3.5,"f":-0.26},{"p":22,"t":3.7,"f":-0.26},{"p":22,"t":3.9,"f":-0.25},{"p":22,"t":4.1,"f":-0.24},{"p":22,"t":4.3,"f":-0.23},{"p":22,"t":4.5,"f":-0.22},{"p":22,"t":4.7,"f":-0.21},{"p":22,"t":4.9,"f":-0.2},{"p":22,"t":5.0,"f":-0.2},
{"p":23,"t":0.05,"f":-1.9},{"p":23,"t":0.1,"f":-2.3},{"p":23,"t":0.15,"f":-1.8},{"p":23,"t":0.2,"f":-2.2},{"p":23,"t":0.25,"f":-1.75},{"p":23,"t":0.3,"f":-2.1},{"p":23,"t":0.35,"f":-1.6},{"p":23,"t":0.4,"f":-1.5},{"p":23,"t":0.45,"f":-3.05},{"p":23,"t":0.5,"f":-1.2},{"p":23,"t":0.55,"f":-1.05},{"p":23,"t":0.6,"f":-0.95},{"p":23,"t":0.7,"f":-0.85},{"p":23,"t":0.8,"f":-0.72},{"p":23,"t":0.9,"f":-0.65},{"p":23,"t":1.0,"f":-0.62},{"p":23,"t":1.1,"f":-0.58},{"p":23,"t":1.2,"f":-0.65},{"p":23,"t":1.3,"f":-0.55},{"p":23,"t":1.4,"f":-0.62},{"p":23,"t":1.5,"f":-0.54},{"p":23,"t":1.6,"f":-0.6},{"p":23,"t":1.7,"f":-0.52},{"p":23,"t":1.8,"f":-0.58},{"p":23,"t":1.9,"f":-0.5},{"p":23,"t":2.0,"f":-0.57},{"p":23,"t":2.1,"f":-0.5},{"p":23,"t":2.2,"f":-0.55},{"p":23,"t":2.3,"f":-0.48},{"p":23,"t":2.4,"f":-0.56},{"p":23,"t":2.5,"f":-0.5},{"p":23,"t":2.6,"f":-0.53},{"p":23,"t":2.7,"f":-0.47},{"p":23,"t":2.8,"f":-0.52},{"p":23,"t":2.9,"f":-0.46},{"p":23,"t":3.0,"f":-0.5},{"p":23,"t":3.2,"f":-0.46},{"p":23,"t":3.4,"f":-0.49},{"p":23,"t":3.6,"f":-0.44},{"p":23,"t":3.8,"f":-0.47},{"p":23,"t":4.0,"f":-0.43},{"p":23,"t":4.2,"f":-0.45},{"p":23,"t":4.4,"f":-0.41},{"p":23,"t":4.6,"f":-0.43},{"p":23,"t":4.8,"f":-0.39},{"p":23,"t":5.0,"f":-0.36},
{"p":24,"t":0.05,"f":-2.4},{"p":24,"t":0.1,"f":-2.1},{"p":24,"t":0.15,"f":-2.5},{"p":24,"t":0.2,"f":-2.0},{"p":24,"t":0.25,"f":-2.55},{"p":24,"t":0.3,"f":-1.95},{"p":24,"t":0.35,"f":-2.4},{"p":24,"t":0.4,"f":-1.85},{"p":24,"t":0.45,"f":-2.2},{"p":24,"t":0.5,"f":-1.75},{"p":24,"t":0.55,"f":-1.9},{"p":24,"t":0.6,"f":-1.6},{"p":24,"t":0.7,"f":-1.2},{"p":24,"t":0.8,"f":-0.85},{"p":24,"t":0.9,"f":-0.6},{"p":24,"t":1.0,"f":-0.48},{"p":24,"t":1.1,"f":-0.42},{"p":24,"t":1.3,"f":-0.4},{"p":24,"t":1.5,"f":-0.42},{"p":24,"t":1.7,"f":-0.4},{"p":24,"t":1.9,"f":-0.43},{"p":24,"t":2.1,"f":-0.41},{"p":24,"t":2.3,"f":-0.43},{"p":24,"t":2.5,"f":-0.41},{"p":24,"t":2.7,"f":-0.44},{"p":24,"t":2.9,"f":-0.42},{"p":24,"t":3.1,"f":-0.44},{"p":24,"t":3.3,"f":-0.42},{"p":24,"t":3.5,"f":-0.43},{"p":24,"t":3.7,"f":-0.42},{"p":24,"t":3.9,"f":-0.44},{"p":24,"t":4.1,"f":-0.42},{"p":24,"t":4.3,"f":-0.43},{"p":24,"t":4.5,"f":-0.41},{"p":24,"t":4.7,"f":-0.44},{"p":24,"t":4.9,"f":-0.43},{"p":24,"t":5.05,"f":-0.44},
{"p":25,"t":0.05,"f":-2.4},{"p":25,"t":0.1,"f":-2.15},{"p":25,"t":0.15,"f":-2.5},{"p":25,"t":0.2,"f":-2.0},{"p":25,"t":0.25,"f":-2.45},{"p":25,"t":0.3,"f":-1.95},{"p":25,"t":0.35,"f":-2.3},{"p":25,"t":0.4,"f":-1.85},{"p":25,"t":0.45,"f":-2.05},{"p":25,"t":0.5,"f":-1.75},{"p":25,"t":0.6,"f":-1.3},{"p":25,"t":0.7,"f":-1.0},{"p":25,"t":0.8,"f":-0.75},{"p":25,"t":0.9,"f":-0.55},{"p":25,"t":1.0,"f":-0.45},{"p":25,"t":1.1,"f":-0.42},{"p":25,"t":1.3,"f":-0.39},{"p":25,"t":1.5,"f":-0.4},{"p":25,"t":1.7,"f":-0.38},{"p":25,"t":1.9,"f":-0.41},{"p":25,"t":2.1,"f":-0.39},{"p":25,"t":2.3,"f":-0.42},{"p":25,"t":2.5,"f":-0.4},{"p":25,"t":2.7,"f":-0.42},{"p":25,"t":2.9,"f":-0.4},{"p":25,"t":3.1,"f":-0.43},{"p":25,"t":3.3,"f":-0.41},{"p":25,"t":3.5,"f":-0.43},{"p":25,"t":3.7,"f":-0.41},{"p":25,"t":3.9,"f":-0.43},{"p":25,"t":4.1,"f":-0.42},{"p":25,"t":4.3,"f":-0.43},{"p":25,"t":4.5,"f":-0.41},{"p":25,"t":4.7,"f":-0.43},{"p":25,"t":4.9,"f":-0.44},{"p":25,"t":5.1,"f":-0.44}
]},
"data":{"name":"d"},
"columns":5,
"spacing":0,
"bounds":"flush",
"concat":[
{"width":207,"height":207,"layer":[{"transform":[{"filter":"datum.p==1"}],"mark":{"type":"line","color":"black","strokeWidth":2.4,"clip":true},"encoding":{"x":{"field":"t","type":"quantitative","scale":{"domain":[-0.5,5.5],"nice":false,"zero":false},"axis":{"orient":"bottom","title":null}},"y":{"field":"f","type":"quantitative","scale":{"domain":[-3.2,0.15],"nice":false,"zero":false},"axis":{"orient":"left","labels":true,"title":"log f_g"}}}},{"data":{"name":"lab"},"transform":[{"filter":"datum.p==1"}],"mark":{"type":"text","align":"right","baseline":"top","lineBreak":"\n","lineHeight":13,"fontWeight":"bold","fontSize":12,"font":"DejaVu Sans","color":"black"},"encoding":{"x":{"datum":4.95,"type":"quantitative","scale":{"domain":[-0.5,5.5],"nice":false,"zero":false},"axis":{"orient":"top","title":null}},"y":{"datum":0.0,"type":"quantitative","scale":{"domain":[-3.2,0.15],"nice":false,"zero":false},"axis":{"orient":"right","title":null}},"text":{"field":"s"}}}],"resolve":{"axis":{"x":"independent","y":"independent"}}},
{"width":207,"height":207,"layer":[{"transform":[{"filter":"datum.p==2"}],"mark":{"type":"line","color":"black","strokeWidth":2.4,"clip":true},"encoding":{"x":{"field":"t","type":"quantitative","scale":{"domain":[-0.5,5.5],"nice":false,"zero":false},"axis":{"orient":"bottom","title":null}},"y":{"field":"f","type":"quantitative","scale":{"domain":[-3.2,0.15],"nice":false,"zero":false},"axis":{"orient":"left","title":null}}}},{"data":{"name":"lab"},"transform":[{"filter":"datum.p==2"}],"mark":{"type":"text","align":"right","baseline":"top","lineBreak":"\n","lineHeight":13,"fontWeight":"bold","fontSize":12,"font":"DejaVu Sans","color":"black"},"encoding":{"x":{"datum":4.95,"type":"quantitative","scale":{"domain":[-0.5,5.5],"nice":false,"zero":false},"axis":{"orient":"top","title":null}},"y":{"datum":0.0,"type":"quantitative","scale":{"domain":[-3.2,0.15],"nice":false,"zero":false},"axis":{"orient":"right","title":null}},"text":{"field":"s"}}}],"resolve":{"axis":{"x":"independent","y":"independent"}}},
{"width":207,"height":207,"layer":[{"transform":[{"filter":"datum.p==3"}],"mark":{"type":"line","color":"black","strokeWidth":2.4,"clip":true},"encoding":{"x":{"field":"t","type":"quantitative","scale":{"domain":[-0.5,5.5],"nice":false,"zero":false},"axis":{"orient":"bottom","title":null}},"y":{"field":"f","type":"quantitative","scale":{"domain":[-3.2,0.15],"nice":false,"zero":false},"axis":{"orient":"left","title":null}}}},{"data":{"name":"lab"},"transform":[{"filter":"datum.p==3"}],"mark":{"type":"text","align":"right","baseline":"top","lineBreak":"\n","lineHeight":13,"fontWeight":"bold","fontSize":12,"font":"DejaVu Sans","color":"black"},"encoding":{"x":{"datum":4.95,"type":"quantitative","scale":{"domain":[-0.5,5.5],"nice":false,"zero":false},"axis":{"orient":"top","title":null}},"y":{"datum":0.0,"type":"quantitative","scale":{"domain":[-3.2,0.15],"nice":false,"zero":false},"axis":{"orient":"right","title":null}},"text":{"field":"s"}}}],"resolve":{"axis":{"x":"independent","y":"independent"}}},
{"width":207,"height":207,"layer":[{"transform":[{"filter":"datum.p==4"}],"mark":{"type":"line","color":"black","strokeWidth":2.4,"clip":true},"encoding":{"x":{"field":"t","type":"quantitative","scale":{"domain":[-0.5,5.5],"nice":false,"zero":false},"axis":{"orient":"bottom","title":null}},"y":{"field":"f","type":"quantitative","scale":{"domain":[-3.2,0.15],"nice":false,"zero":false},"axis":{"orient":"left","title":null}}}},{"data":{"name":"lab"},"transform":[{"filter":"datum.p==4"}],"mark":{"type":"text","align":"right","baseline":"top","lineBreak":"\n","lineHeight":13,"fontWeight":"bold","fontSize":12,"font":"DejaVu Sans","color":"black"},"encoding":{"x":{"datum":4.95,"type":"quantitative","scale":{"domain":[-0.5,5.5],"nice":false,"zero":false},"axis":{"orient":"top","title":null}},"y":{"datum":0.0,"type":"quantitative","scale":{"domain":[-3.2,0.15],"nice":false,"zero":false},"axis":{"orient":"right","title":null}},"text":{"field":"s"}}}],"resolve":{"axis":{"x":"independent","y":"independent"}}},
{"width":207,"height":207,"layer":[{"transform":[{"filter":"datum.p==5"}],"mark":{"type":"line","color":"black","strokeWidth":2.4,"clip":true},"encoding":{"x":{"field":"t","type":"quantitative","scale":{"domain":[-0.5,5.5],"nice":false,"zero":false},"axis":{"orient":"bottom","title":null}},"y":{"field":"f","type":"quantitative","scale":{"domain":[-3.2,0.15],"nice":false,"zero":false},"axis":{"orient":"left","title":null}}}},{"data":{"name":"lab"},"transform":[{"filter":"datum.p==5"}],"mark":{"type":"text","align":"right","baseline":"top","lineBreak":"\n","lineHeight":13,"fontWeight":"bold","fontSize":12,"font":"DejaVu Sans","color":"black"},"encoding":{"x":{"datum":4.95,"type":"quantitative","scale":{"domain":[-0.5,5.5],"nice":false,"zero":false},"axis":{"orient":"top","title":null}},"y":{"datum":0.0,"type":"quantitative","scale":{"domain":[-3.2,0.15],"nice":false,"zero":false},"axis":{"orient":"right","title":null}},"text":{"field":"s"}}}],"resolve":{"axis":{"x":"independent","y":"independent"}}},
{"width":207,"height":207,"layer":[{"transform":[{"filter":"datum.p==6"}],"mark":{"type":"line","color":"black","strokeWidth":2.4,"clip":true},"encoding":{"x":{"field":"t","type":"quantitative","scale":{"domain":[-0.5,5.5],"nice":false,"zero":false},"axis":{"orient":"bottom","title":null}},"y":{"field":"f","type":"quantitative","scale":{"domain":[-3.2,0.15],"nice":false,"zero":false},"axis":{"orient":"left","labels":true,"title":"log f_g"}}}},{"data":{"name":"lab"},"transform":[{"filter":"datum.p==6"}],"mark":{"type":"text","align":"right","baseline":"top","lineBreak":"\n","lineHeight":13,"fontWeight":"bold","fontSize":12,"font":"DejaVu Sans","color":"black"},"encoding":{"x":{"datum":4.95,"type":"quantitative","scale":{"domain":[-0.5,5.5],"nice":false,"zero":false},"axis":{"orient":"top","title":null}},"y":{"datum":0.0,"type":"quantitative","scale":{"domain":[-3.2,0.15],"nice":false,"zero":false},"axis":{"orient":"right","title":null}},"text":{"field":"s"}}}],"resolve":{"axis":{"x":"independent","y":"independent"}}},
{"width":207,"height":207,"layer":[{"transform":[{"filter":"datum.p==7"}],"mark":{"type":"line","color":"black","strokeWidth":2.4,"clip":true},"encoding":{"x":{"field":"t","type":"quantitative","scale":{"domain":[-0.5,5.5],"nice":false,"zero":false},"axis":{"orient":"bottom","title":null}},"y":{"field":"f","type":"quantitative","scale":{"domain":[-3.2,0.15],"nice":false,"zero":false},"axis":{"orient":"left","title":null}}}},{"data":{"name":"lab"},"transform":[{"filter":"datum.p==7"}],"mark":{"type":"text","align":"right","baseline":"top","lineBreak":"\n","lineHeight":13,"fontWeight":"bold","fontSize":12,"font":"DejaVu Sans","color":"black"},"encoding":{"x":{"datum":4.95,"type":"quantitative","scale":{"domain":[-0.5,5.5],"nice":false,"zero":false},"axis":{"orient":"top","title":null}},"y":{"datum":0.0,"type":"quantitative","scale":{"domain":[-3.2,0.15],"nice":false,"zero":false},"axis":{"orient":"right","title":null}},"text":{"field":"s"}}}],"resolve":{"axis":{"x":"independent","y":"independent"}}},
{"width":207,"height":207,"layer":[{"transform":[{"filter":"datum.p==8"}],"mark":{"type":"line","color":"black","strokeWidth":2.4,"clip":true},"encoding":{"x":{"field":"t","type":"quantitative","scale":{"domain":[-0.5,5.5],"nice":false,"zero":false},"axis":{"orient":"bottom","title":null}},"y":{"field":"f","type":"quantitative","scale":{"domain":[-3.2,0.15],"nice":false,"zero":false},"axis":{"orient":"left","title":null}}}},{"data":{"name":"lab"},"transform":[{"filter":"datum.p==8"}],"mark":{"type":"text","align":"right","baseline":"top","lineBreak":"\n","lineHeight":13,"fontWeight":"bold","fontSize":12,"font":"DejaVu Sans","color":"black"},"encoding":{"x":{"datum":4.95,"type":"quantitative","scale":{"domain":[-0.5,5.5],"nice":false,"zero":false},"axis":{"orient":"top","title":null}},"y":{"datum":0.0,"type":"quantitative","scale":{"domain":[-3.2,0.15],"nice":false,"zero":false},"axis":{"orient":"right","title":null}},"text":{"field":"s"}}}],"resolve":{"axis":{"x":"independent","y":"independent"}}},
{"width":207,"height":207,"layer":[{"transform":[{"filter":"datum.p==9"}],"mark":{"type":"line","color":"black","strokeWidth":2.4,"clip":true},"encoding":{"x":{"field":"t","type":"quantitative","scale":{"domain":[-0.5,5.5],"nice":false,"zero":false},"axis":{"orient":"bottom","title":null}},"y":{"field":"f","type":"quantitative","scale":{"domain":[-3.2,0.15],"nice":false,"zero":false},"axis":{"orient":"left","title":null}}}},{"data":{"name":"lab"},"transform":[{"filter":"datum.p==9"}],"mark":{"type":"text","align":"right","baseline":"top","lineBreak":"\n","lineHeight":13,"fontWeight":"bold","fontSize":12,"font":"DejaVu Sans","color":"black"},"encoding":{"x":{"datum":4.95,"type":"quantitative","scale":{"domain":[-0.5,5.5],"nice":false,"zero":false},"axis":{"orient":"top","title":null}},"y":{"datum":0.0,"type":"quantitative","scale":{"domain":[-3.2,0.15],"nice":false,"zero":false},"axis":{"orient":"right","title":null}},"text":{"field":"s"}}}],"resolve":{"axis":{"x":"independent","y":"independent"}}},
{"width":207,"height":207,"layer":[{"transform":[{"filter":"datum.p==10"}],"mark":{"type":"line","color":"black","strokeWidth":2.4,"clip":true},"encoding":{"x":{"field":"t","type":"quantitative","scale":{"domain":[-0.5,5.5],"nice":false,"zero":false},"axis":{"orient":"bottom","title":null}},"y":{"field":"f","type":"quantitative","scale":{"domain":[-3.2,0.15],"nice":false,"zero":false},"axis":{"orient":"left","title":null}}}},{"data":{"name":"lab"},"transform":[{"filter":"datum.p==10"}],"mark":{"type":"text","align":"right","baseline":"top","lineBreak":"\n","lineHeight":13,"fontWeight":"bold","fontSize":12,"font":"DejaVu Sans","color":"black"},"encoding":{"x":{"datum":4.95,"type":"quantitative","scale":{"domain":[-0.5,5.5],"nice":false,"zero":false},"axis":{"orient":"top","title":null}},"y":{"datum":0.0,"type":"quantitative","scale":{"domain":[-3.2,0.15],"nice":false,"zero":false},"axis":{"orient":"right","title":null}},"text":{"field":"s"}}}],"resolve":{"axis":{"x":"independent","y":"independent"}}},
{"width":207,"height":207,"layer":[{"transform":[{"filter":"datum.p==11"}],"mark":{"type":"line","color":"black","strokeWidth":2.4,"clip":true},"encoding":{"x":{"field":"t","type":"quantitative","scale":{"domain":[-0.5,5.5],"nice":false,"zero":false},"axis":{"orient":"bottom","title":null}},"y":{"field":"f","type":"quantitative","scale":{"domain":[-3.2,0.15],"nice":false,"zero":false},"axis":{"orient":"left","labels":true,"title":"log f_g"}}}},{"data":{"name":"lab"},"transform":[{"filter":"datum.p==11"}],"mark":{"type":"text","align":"right","baseline":"top","lineBreak":"\n","lineHeight":13,"fontWeight":"bold","fontSize":12,"font":"DejaVu Sans","color":"black"},"encoding":{"x":{"datum":4.95,"type":"quantitative","scale":{"domain":[-0.5,5.5],"nice":false,"zero":false},"axis":{"orient":"top","title":null}},"y":{"datum":0.0,"type":"quantitative","scale":{"domain":[-3.2,0.15],"nice":false,"zero":false},"axis":{"orient":"right","title":null}},"text":{"field":"s"}}}],"resolve":{"axis":{"x":"independent","y":"independent"}}},
{"width":207,"height":207,"layer":[{"transform":[{"filter":"datum.p==12"}],"mark":{"type":"line","color":"black","strokeWidth":2.4,"clip":true},"encoding":{"x":{"field":"t","type":"quantitative","scale":{"domain":[-0.5,5.5],"nice":false,"zero":false},"axis":{"orient":"bottom","title":null}},"y":{"field":"f","type":"quantitative","scale":{"domain":[-3.2,0.15],"nice":false,"zero":false},"axis":{"orient":"left","title":null}}}},{"data":{"name":"lab"},"transform":[{"filter":"datum.p==12"}],"mark":{"type":"text","align":"right","baseline":"top","lineBreak":"\n","lineHeight":13,"fontWeight":"bold","fontSize":12,"font":"DejaVu Sans","color":"black"},"encoding":{"x":{"datum":4.95,"type":"quantitative","scale":{"domain":[-0.5,5.5],"nice":false,"zero":false},"axis":{"orient":"top","title":null}},"y":{"datum":0.0,"type":"quantitative","scale":{"domain":[-3.2,0.15],"nice":false,"zero":false},"axis":{"orient":"right","title":null}},"text":{"field":"s"}}}],"resolve":{"axis":{"x":"independent","y":"independent"}}},
{"width":207,"height":207,"layer":[{"transform":[{"filter":"datum.p==13"}],"mark":{"type":"line","color":"black","strokeWidth":2.4,"clip":true},"encoding":{"x":{"field":"t","type":"quantitative","scale":{"domain":[-0.5,5.5],"nice":false,"zero":false},"axis":{"orient":"bottom","title":null}},"y":{"field":"f","type":"quantitative","scale":{"domain":[-3.2,0.15],"nice":false,"zero":false},"axis":{"orient":"left","title":null}}}},{"data":{"name":"lab"},"transform":[{"filter":"datum.p==13"}],"mark":{"type":"text","align":"right","baseline":"top","lineBreak":"\n","lineHeight":13,"fontWeight":"bold","fontSize":12,"font":"DejaVu Sans","color":"black"},"encoding":{"x":{"datum":4.95,"type":"quantitative","scale":{"domain":[-0.5,5.5],"nice":false,"zero":false},"axis":{"orient":"top","title":null}},"y":{"datum":0.0,"type":"quantitative","scale":{"domain":[-3.2,0.15],"nice":false,"zero":false},"axis":{"orient":"right","title":null}},"text":{"field":"s"}}}],"resolve":{"axis":{"x":"independent","y":"independent"}}},
{"width":207,"height":207,"layer":[{"transform":[{"filter":"datum.p==14"}],"mark":{"type":"line","color":"black","strokeWidth":2.4,"clip":true},"encoding":{"x":{"field":"t","type":"quantitative","scale":{"domain":[-0.5,5.5],"nice":false,"zero":false},"axis":{"orient":"bottom","title":null}},"y":{"field":"f","type":"quantitative","scale":{"domain":[-3.2,0.15],"nice":false,"zero":false},"axis":{"orient":"left","title":null}}}},{"data":{"name":"lab"},"transform":[{"filter":"datum.p==14"}],"mark":{"type":"text","align":"right","baseline":"top","lineBreak":"\n","lineHeight":13,"fontWeight":"bold","fontSize":12,"font":"DejaVu Sans","color":"black"},"encoding":{"x":{"datum":4.95,"type":"quantitative","scale":{"domain":[-0.5,5.5],"nice":false,"zero":false},"axis":{"orient":"top","title":null}},"y":{"datum":0.0,"type":"quantitative","scale":{"domain":[-3.2,0.15],"nice":false,"zero":false},"axis":{"orient":"right","title":null}},"text":{"field":"s"}}}],"resolve":{"axis":{"x":"independent","y":"independent"}}},
{"width":207,"height":207,"layer":[{"transform":[{"filter":"datum.p==15"}],"mark":{"type":"line","color":"black","strokeWidth":2.4,"clip":true},"encoding":{"x":{"field":"t","type":"quantitative","scale":{"domain":[-0.5,5.5],"nice":false,"zero":false},"axis":{"orient":"bottom","title":null}},"y":{"field":"f","type":"quantitative","scale":{"domain":[-3.2,0.15],"nice":false,"zero":false},"axis":{"orient":"left","title":null}}}},{"data":{"name":"lab"},"transform":[{"filter":"datum.p==15"}],"mark":{"type":"text","align":"right","baseline":"top","lineBreak":"\n","lineHeight":13,"fontWeight":"bold","fontSize":12,"font":"DejaVu Sans","color":"black"},"encoding":{"x":{"datum":4.95,"type":"quantitative","scale":{"domain":[-0.5,5.5],"nice":false,"zero":false},"axis":{"orient":"top","title":null}},"y":{"datum":0.0,"type":"quantitative","scale":{"domain":[-3.2,0.15],"nice":false,"zero":false},"axis":{"orient":"right","title":null}},"text":{"field":"s"}}}],"resolve":{"axis":{"x":"independent","y":"independent"}}},
{"width":207,"height":207,"layer":[{"transform":[{"filter":"datum.p==16"}],"mark":{"type":"line","color":"black","strokeWidth":2.4,"clip":true},"encoding":{"x":{"field":"t","type":"quantitative","scale":{"domain":[-0.5,5.5],"nice":false,"zero":false},"axis":{"orient":"bottom","title":null}},"y":{"field":"f","type":"quantitative","scale":{"domain":[-3.2,0.15],"nice":false,"zero":false},"axis":{"orient":"left","labels":true,"title":"log f_g"}}}},{"data":{"name":"lab"},"transform":[{"filter":"datum.p==16"}],"mark":{"type":"text","align":"right","baseline":"top","lineBreak":"\n","lineHeight":13,"fontWeight":"bold","fontSize":12,"font":"DejaVu Sans","color":"black"},"encoding":{"x":{"datum":4.95,"type":"quantitative","scale":{"domain":[-0.5,5.5],"nice":false,"zero":false},"axis":{"orient":"top","title":null}},"y":{"datum":0.0,"type":"quantitative","scale":{"domain":[-3.2,0.15],"nice":false,"zero":false},"axis":{"orient":"right","title":null}},"text":{"field":"s"}}}],"resolve":{"axis":{"x":"independent","y":"independent"}}},
{"width":207,"height":207,"layer":[{"transform":[{"filter":"datum.p==17"}],"mark":{"type":"line","color":"black","strokeWidth":2.4,"clip":true},"encoding":{"x":{"field":"t","type":"quantitative","scale":{"domain":[-0.5,5.5],"nice":false,"zero":false},"axis":{"orient":"bottom","title":null}},"y":{"field":"f","type":"quantitative","scale":{"domain":[-3.2,0.15],"nice":false,"zero":false},"axis":{"orient":"left","title":null}}}},{"data":{"name":"lab"},"transform":[{"filter":"datum.p==17"}],"mark":{"type":"text","align":"right","baseline":"top","lineBreak":"\n","lineHeight":13,"fontWeight":"bold","fontSize":12,"font":"DejaVu Sans","color":"black"},"encoding":{"x":{"datum":4.95,"type":"quantitative","scale":{"domain":[-0.5,5.5],"nice":false,"zero":false},"axis":{"orient":"top","title":null}},"y":{"datum":0.0,"type":"quantitative","scale":{"domain":[-3.2,0.15],"nice":false,"zero":false},"axis":{"orient":"right","title":null}},"text":{"field":"s"}}}],"resolve":{"axis":{"x":"independent","y":"independent"}}},
{"width":207,"height":207,"layer":[{"transform":[{"filter":"datum.p==18"}],"mark":{"type":"line","color":"black","strokeWidth":2.4,"clip":true},"encoding":{"x":{"field":"t","type":"quantitative","scale":{"domain":[-0.5,5.5],"nice":false,"zero":false},"axis":{"orient":"bottom","title":null}},"y":{"field":"f","type":"quantitative","scale":{"domain":[-3.2,0.15],"nice":false,"zero":false},"axis":{"orient":"left","title":null}}}},{"data":{"name":"lab"},"transform":[{"filter":"datum.p==18"}],"mark":{"type":"text","align":"right","baseline":"top","lineBreak":"\n","lineHeight":13,"fontWeight":"bold","fontSize":12,"font":"DejaVu Sans","color":"black"},"encoding":{"x":{"datum":4.95,"type":"quantitative","scale":{"domain":[-0.5,5.5],"nice":false,"zero":false},"axis":{"orient":"top","title":null}},"y":{"datum":0.0,"type":"quantitative","scale":{"domain":[-3.2,0.15],"nice":false,"zero":false},"axis":{"orient":"right","title":null}},"text":{"field":"s"}}}],"resolve":{"axis":{"x":"independent","y":"independent"}}},
{"width":207,"height":207,"layer":[{"transform":[{"filter":"datum.p==19"}],"mark":{"type":"line","color":"black","strokeWidth":2.4,"clip":true},"encoding":{"x":{"field":"t","type":"quantitative","scale":{"domain":[-0.5,5.5],"nice":false,"zero":false},"axis":{"orient":"bottom","title":null}},"y":{"field":"f","type":"quantitative","scale":{"domain":[-3.2,0.15],"nice":false,"zero":false},"axis":{"orient":"left","title":null}}}},{"data":{"name":"lab"},"transform":[{"filter":"datum.p==19"}],"mark":{"type":"text","align":"right","baseline":"top","lineBreak":"\n","lineHeight":13,"fontWeight":"bold","fontSize":12,"font":"DejaVu Sans","color":"black"},"encoding":{"x":{"datum":4.95,"type":"quantitative","scale":{"domain":[-0.5,5.5],"nice":false,"zero":false},"axis":{"orient":"top","title":null}},"y":{"datum":0.0,"type":"quantitative","scale":{"domain":[-3.2,0.15],"nice":false,"zero":false},"axis":{"orient":"right","title":null}},"text":{"field":"s"}}}],"resolve":{"axis":{"x":"independent","y":"independent"}}},
{"width":207,"height":207,"layer":[{"transform":[{"filter":"datum.p==20"}],"mark":{"type":"line","color":"black","strokeWidth":2.4,"clip":true},"encoding":{"x":{"field":"t","type":"quantitative","scale":{"domain":[-0.5,5.5],"nice":false,"zero":false},"axis":{"orient":"bottom","title":null}},"y":{"field":"f","type":"quantitative","scale":{"domain":[-3.2,0.15],"nice":false,"zero":false},"axis":{"orient":"left","title":null}}}},{"data":{"name":"lab"},"transform":[{"filter":"datum.p==20"}],"mark":{"type":"text","align":"right","baseline":"top","lineBreak":"\n","lineHeight":13,"fontWeight":"bold","fontSize":12,"font":"DejaVu Sans","color":"black"},"encoding":{"x":{"datum":4.95,"type":"quantitative","scale":{"domain":[-0.5,5.5],"nice":false,"zero":false},"axis":{"orient":"top","title":null}},"y":{"datum":0.0,"type":"quantitative","scale":{"domain":[-3.2,0.15],"nice":false,"zero":false},"axis":{"orient":"right","title":null}},"text":{"field":"s"}}}],"resolve":{"axis":{"x":"independent","y":"independent"}}},
{"width":207,"height":207,"layer":[{"transform":[{"filter":"datum.p==21"}],"mark":{"type":"line","color":"black","strokeWidth":2.4,"clip":true},"encoding":{"x":{"field":"t","type":"quantitative","scale":{"domain":[-0.5,5.5],"nice":false,"zero":false},"axis":{"orient":"bottom","labels":true,"title":"t(Gyr)"}},"y":{"field":"f","type":"quantitative","scale":{"domain":[-3.2,0.15],"nice":false,"zero":false},"axis":{"orient":"left","labels":true,"title":"log f_g"}}}},{"data":{"name":"lab"},"transform":[{"filter":"datum.p==21"}],"mark":{"type":"text","align":"right","baseline":"top","lineBreak":"\n","lineHeight":13,"fontWeight":"bold","fontSize":12,"font":"DejaVu Sans","color":"black"},"encoding":{"x":{"datum":4.95,"type":"quantitative","scale":{"domain":[-0.5,5.5],"nice":false,"zero":false},"axis":{"orient":"top","title":null}},"y":{"datum":0.0,"type":"quantitative","scale":{"domain":[-3.2,0.15],"nice":false,"zero":false},"axis":{"orient":"right","title":null}},"text":{"field":"s"}}}],"resolve":{"axis":{"x":"independent","y":"independent"}}},
{"width":207,"height":207,"layer":[{"transform":[{"filter":"datum.p==22"}],"mark":{"type":"line","color":"black","strokeWidth":2.4,"clip":true},"encoding":{"x":{"field":"t","type":"quantitative","scale":{"domain":[-0.5,5.5],"nice":false,"zero":false},"axis":{"orient":"bottom","labels":true,"title":"t (Gyr)"}},"y":{"field":"f","type":"quantitative","scale":{"domain":[-3.2,0.15],"nice":false,"zero":false},"axis":{"orient":"left","title":null}}}},{"data":{"name":"lab"},"transform":[{"filter":"datum.p==22"}],"mark":{"type":"text","align":"right","baseline":"top","lineBreak":"\n","lineHeight":13,"fontWeight":"bold","fontSize":12,"font":"DejaVu Sans","color":"black"},"encoding":{"x":{"datum":4.95,"type":"quantitative","scale":{"domain":[-0.5,5.5],"nice":false,"zero":false},"axis":{"orient":"top","title":null}},"y":{"datum":0.0,"type":"quantitative","scale":{"domain":[-3.2,0.15],"nice":false,"zero":false},"axis":{"orient":"right","title":null}},"text":{"field":"s"}}}],"resolve":{"axis":{"x":"independent","y":"independent"}}},
{"width":207,"height":207,"layer":[{"transform":[{"filter":"datum.p==23"}],"mark":{"type":"line","color":"black","strokeWidth":2.4,"clip":true},"encoding":{"x":{"field":"t","type":"quantitative","scale":{"domain":[-0.5,5.5],"nice":false,"zero":false},"axis":{"orient":"bottom","labels":true,"title":"t (Gyr)"}},"y":{"field":"f","type":"quantitative","scale":{"domain":[-3.2,0.15],"nice":false,"zero":false},"axis":{"orient":"left","title":null}}}},{"data":{"name":"lab"},"transform":[{"filter":"datum.p==23"}],"mark":{"type":"text","align":"right","baseline":"top","lineBreak":"\n","lineHeight":13,"fontWeight":"bold","fontSize":12,"font":"DejaVu Sans","color":"black"},"encoding":{"x":{"datum":4.95,"type":"quantitative","scale":{"domain":[-0.5,5.5],"nice":false,"zero":false},"axis":{"orient":"top","title":null}},"y":{"datum":0.0,"type":"quantitative","scale":{"domain":[-3.2,0.15],"nice":false,"zero":false},"axis":{"orient":"right","title":null}},"text":{"field":"s"}}}],"resolve":{"axis":{"x":"independent","y":"independent"}}},
{"width":207,"height":207,"layer":[{"transform":[{"filter":"datum.p==24"}],"mark":{"type":"line","color":"black","strokeWidth":2.4,"clip":true},"encoding":{"x":{"field":"t","type":"quantitative","scale":{"domain":[-0.5,5.5],"nice":false,"zero":false},"axis":{"orient":"bottom","labels":true,"title":"t (Gyr)"}},"y":{"field":"f","type":"quantitative","scale":{"domain":[-3.2,0.15],"nice":false,"zero":false},"axis":{"orient":"left","title":null}}}},{"data":{"name":"lab"},"transform":[{"filter":"datum.p==24"}],"mark":{"type":"text","align":"right","baseline":"top","lineBreak":"\n","lineHeight":13,"fontWeight":"bold","fontSize":12,"font":"DejaVu Sans","color":"black"},"encoding":{"x":{"datum":4.95,"type":"quantitative","scale":{"domain":[-0.5,5.5],"nice":false,"zero":false},"axis":{"orient":"top","title":null}},"y":{"datum":0.0,"type":"quantitative","scale":{"domain":[-3.2,0.15],"nice":false,"zero":false},"axis":{"orient":"right","title":null}},"text":{"field":"s"}}}],"resolve":{"axis":{"x":"independent","y":"independent"}}},
{"width":207,"height":207,"layer":[{"transform":[{"filter":"datum.p==25"}],"mark":{"type":"line","color":"black","strokeWidth":2.4,"clip":true},"encoding":{"x":{"field":"t","type":"quantitative","scale":{"domain":[-0.5,5.5],"nice":false,"zero":false},"axis":{"orient":"bottom","labels":true,"title":"t (Gyr)"}},"y":{"field":"f","type":"quantitative","scale":{"domain":[-3.2,0.15],"nice":false,"zero":false},"axis":{"orient":"left","title":null}}}},{"data":{"name":"lab"},"transform":[{"filter":"datum.p==25"}],"mark":{"type":"text","align":"right","baseline":"top","lineBreak":"\n","lineHeight":13,"fontWeight":"bold","fontSize":12,"font":"DejaVu Sans","color":"black"},"encoding":{"x":{"datum":4.95,"type":"quantitative","scale":{"domain":[-0.5,5.5],"nice":false,"zero":false},"axis":{"orient":"top","title":null}},"y":{"datum":0.0,"type":"quantitative","scale":{"domain":[-3.2,0.15],"nice":false,"zero":false},"axis":{"orient":"right","title":null}},"text":{"field":"s"}}}],"resolve":{"axis":{"x":"independent","y":"independent"}}}
],
"config":{
"view":{"stroke":"black","strokeWidth":3},
"axis":{"domain":false,"grid":false,"labels":false,"ticks":true,"tickColor":"black","tickWidth":2.5,"labelFont":"DejaVu Sans","labelFontWeight":"bold","labelFontSize":11,"labelColor":"black","titleFont":"DejaVu Sans","titleFontWeight":"bold","titleFontSize":10,"titleColor":"black"},
"axisX":{"tickCount":12,"labelPadding":17,"labelExpr":"datum.value % 2 == 0 ? format(datum.value, 'd') : ''","tickSize":{"condition":{"test":"datum.value % 2 == 0","value":-9},"value":-5},"titlePadding":8},
"axisY":{"tickCount":17,"labelPadding":16,"labelExpr":"datum.value % 1 == 0 ? format(datum.value, 'd') : ''","tickSize":{"condition":{"test":"datum.value % 1 == 0","value":-9},"value":-5},"titlePadding":12}
}
}
